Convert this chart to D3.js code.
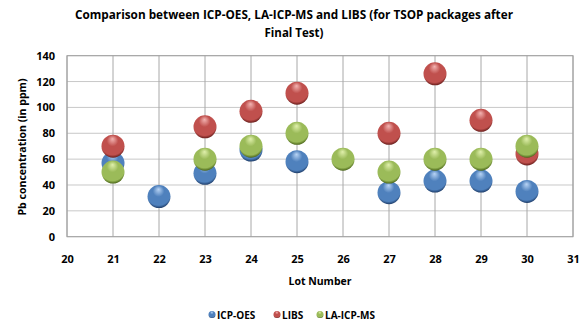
<!DOCTYPE html>
<html><head><meta charset="utf-8">
<script src="https://cdn.jsdelivr.net/npm/d3@7"></script>
<style>body{margin:0;background:#fff}svg{display:block}text{font-family:"Open Sans","Liberation Sans",sans-serif;fill:#000}</style>
</head><body><svg id="c" width="585" height="325"></svg>
<script>
const lots = [21,22,23,24,25,26,27,28,29,30];
const icpOes = [57,31,49,67,58,null,34,43,43,35];
const libs = [70,null,85,97,111,null,80,126,90,64];
const laIcpMs = [50,null,60,70,80,60,50,60,60,70];
const xTicks = [20,21,22,23,24,25,26,27,28,29,30,31];
const yTicks = [0,20,40,60,80,100,120,140];
const seriesNames = ["ICP-OES","LIBS","LA-ICP-MS"];
const seriesColors = [["#b8d4f5","#4f81bd","#1c3a66"],["#f3b4b2","#c0504d","#661c1a"],["#e0f0ac","#9bbb59","#4a6518"]];

const svg = d3.select("#c");
const x = d3.scaleLinear().domain([20,31]).range([67,573]);
const y = d3.scaleLinear().domain([0,140]).range([236.7,55.7]);

const defs = svg.append("defs");
seriesColors.forEach((c,i)=>{
  const g = defs.append("radialGradient").attr("id","g"+i).attr("cx","48%").attr("cy","38%").attr("r","62%").attr("fx","48%").attr("fy","18%");
  g.append("stop").attr("offset","0%").attr("stop-color",c[0]);
  g.append("stop").attr("offset","40%").attr("stop-color",c[1]);
  g.append("stop").attr("offset","85%").attr("stop-color",c[1]);
  g.append("stop").attr("offset","100%").attr("stop-color",c[2]);
});

// grid
svg.append("g").selectAll("line").data(yTicks).join("line")
  .attr("x1",x(20)).attr("x2",x(31)).attr("y1",d=>y(d)).attr("y2",d=>y(d))
  .attr("stroke","#c8c8c8").attr("stroke-width",1);
svg.append("g").selectAll("line").data(xTicks).join("line")
  .attr("y1",y(0)).attr("y2",y(140)).attr("x1",d=>x(d)).attr("x2",d=>x(d))
  .attr("stroke","#a8a8a8").attr("stroke-width",1);
svg.append("rect").attr("x",x(20)).attr("y",y(140)).attr("width",x(31)-x(20)).attr("height",y(0)-y(140))
  .attr("fill","none").attr("stroke","#a0a0a0");

// axes labels
const yAxis = d3.axisLeft(y).tickValues(yTicks).tickSize(0).tickPadding(0);
const gy = svg.append("g").attr("transform","translate(55,0)").call(yAxis);
gy.select(".domain").remove();
gy.selectAll("text").attr("font-size",11).attr("font-weight","bold").style("font-family","'Open Sans',sans-serif").attr("fill","#000");

const xAxis = d3.axisBottom(x).tickValues(xTicks).tickSize(0).tickPadding(0).tickFormat(d3.format("d"));
const gx = svg.append("g").attr("transform","translate(0,255)").call(xAxis);
gx.select(".domain").remove();
gx.selectAll("text").attr("font-size",11).attr("font-weight","bold").style("font-family","'Open Sans',sans-serif").attr("fill","#000");

// points
const all = [icpOes,libs,laIcpMs];
all.forEach((arr,i)=>{
  const pts = lots.map((l,j)=>({l,v:arr[j]})).filter(d=>d.v!==null);
  svg.append("g").selectAll("circle").data(pts).join("circle")
    .attr("cx",d=>x(d.l)).attr("cy",d=>y(d.v)).attr("r",11.5)
    .attr("fill","url(#g"+i+")");
});

// titles
svg.append("text").attr("x",294).attr("y",19).attr("text-anchor","middle").attr("font-size",11.5).attr("font-weight","bold")
  .attr("textLength",438).attr("lengthAdjust","spacingAndGlyphs")
  .text("Comparison between ICP-OES, LA-ICP-MS and LIBS (for TSOP packages after");
svg.append("text").attr("x",294).attr("y",37).attr("text-anchor","middle").attr("font-size",11.5).attr("font-weight","bold")
  .text("Final Test)");
svg.append("text").attr("transform","translate(26,147) rotate(-90)").attr("text-anchor","middle").attr("font-size",10.5).attr("font-weight","bold")
  .attr("textLength",137).attr("lengthAdjust","spacingAndGlyphs")
  .text("Pb concentration (in ppm)");
svg.append("text").attr("x",320).attr("y",285).attr("text-anchor","middle").attr("font-size",10.5).attr("font-weight","bold")
  .text("Lot Number");

// legend
const legX = [212,277,320];
const lg = svg.append("g");
seriesNames.forEach((n,i)=>{
  lg.append("circle").attr("cx",legX[i]).attr("cy",314.5).attr("r",3.5).attr("fill","url(#g"+i+")");
  lg.append("text").attr("x",legX[i]+5).attr("y",318.5).attr("font-size",10).attr("font-weight","bold").text(n);
});
</script></body></html>
